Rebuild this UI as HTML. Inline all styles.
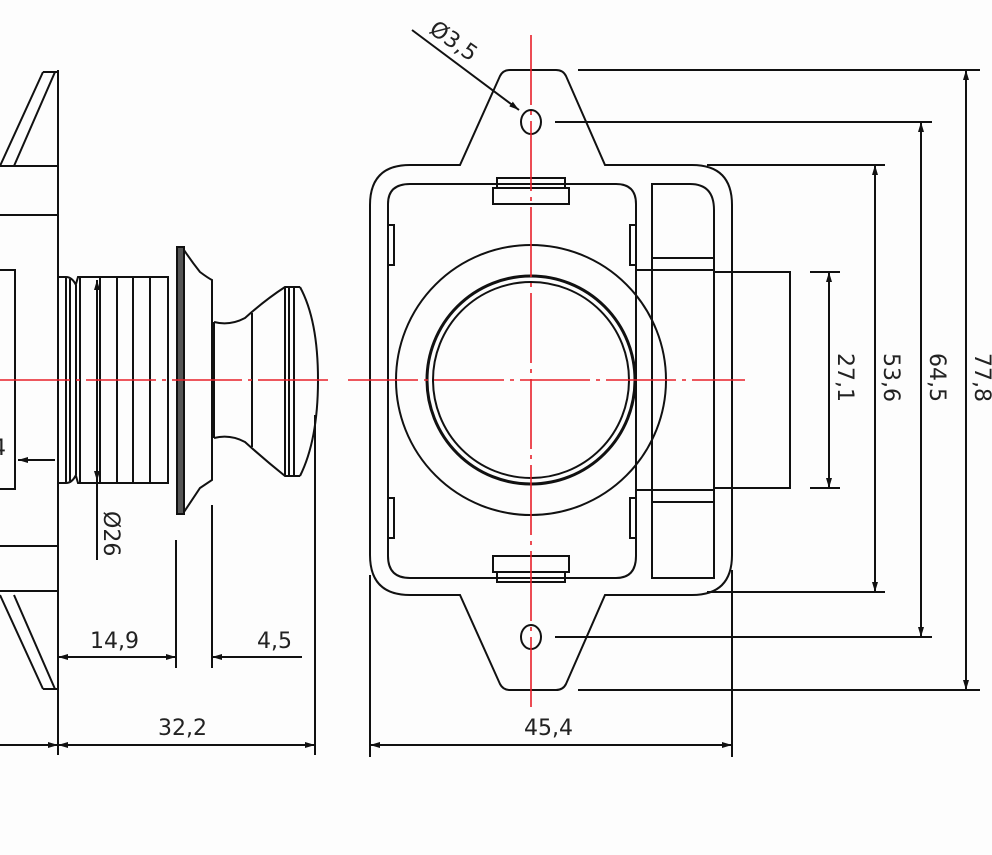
<!DOCTYPE html>
<html><head><meta charset="utf-8"><style>
html,body{margin:0;padding:0;background:#fdfdfd;}
svg{display:block;}
text{font-family:"DejaVu Sans","Liberation Sans",sans-serif;font-size:22px;fill:#222;}
</style></head><body>
<svg width="992" height="855" viewBox="0 0 992 855" xmlns="http://www.w3.org/2000/svg">
<defs>
<marker id="a" viewBox="0 0 10 10" refX="10" refY="5" markerWidth="10" markerHeight="10" orient="auto-start-reverse" markerUnits="userSpaceOnUse"><path d="M0,2 L10,5 L0,8 z" fill="#111"/></marker>
</defs>
<rect width="992" height="855" fill="#fdfdfd"/>
<g fill="none" stroke="#111" stroke-width="2">
<!-- LEFT VIEW -->
<line x1="58" y1="70" x2="58" y2="691"/>
<path d="M43,72 L58,72 M43,72 L0,166 M55,72 L14,166"/>
<line x1="0" y1="166" x2="58" y2="166"/>
<line x1="0" y1="215" x2="58" y2="215"/>
<rect x="-2" y="270" width="17" height="219"/>
<line x1="0" y1="546" x2="58" y2="546"/>
<line x1="0" y1="591" x2="58" y2="591"/>
<path d="M43,689 L58,689 M43,689 L0,595 M55,689 L14,595"/>
<!-- bellows -->
<path d="M58,277 L66,277 Q72,277 76,285 L76,475 Q72,483 66,483 L58,483"/>
<line x1="66" y1="277" x2="66" y2="483"/>
<line x1="70" y1="279" x2="70" y2="481"/>
<path d="M76,284 L78,277 L168,277 L168,483 L78,483 L76,476"/>
<line x1="80" y1="277" x2="80" y2="483"/>
<line x1="100" y1="277" x2="100" y2="483"/>
<line x1="117" y1="277" x2="117" y2="483"/>
<line x1="133" y1="277" x2="133" y2="483"/>
<line x1="150" y1="277" x2="150" y2="483"/>
<!-- flange -->
<rect x="177" y="247" width="7" height="267" fill="#555"/>
<path d="M184,250 Q192,262 200,272 Q208,278 212,280 L212,480 Q206,484 200,488 Q192,500 184,512"/>
<line x1="212" y1="280" x2="212" y2="480"/>
<!-- knob -->
<path d="M214,322 Q230,326 245,318 Q265,300 285,287 L300,287"/>
<path d="M214,438 Q230,434 245,442 Q265,460 285,476 L300,476"/>
<line x1="252" y1="313" x2="252" y2="447"/>
<line x1="214" y1="322" x2="214" y2="438"/>
<line x1="285" y1="287" x2="285" y2="476"/>
<line x1="289" y1="287" x2="289" y2="476"/>
<line x1="294" y1="287" x2="294" y2="476"/>
<path d="M300,287 Q318,320 318,380 Q318,440 300,476"/>
<!-- dims left -->
<line x1="97" y1="280" x2="97" y2="560" marker-start="url(#a)"/>
<line x1="97" y1="480" x2="97" y2="481" marker-end="url(#a)" stroke-width="0.1"/>
<line x1="55" y1="460" x2="18" y2="460" marker-end="url(#a)"/>
<line x1="176" y1="540" x2="176" y2="668"/>
<line x1="212" y1="505" x2="212" y2="668"/>
<line x1="315" y1="415" x2="315" y2="755"/>
<line x1="58" y1="691" x2="58" y2="755"/>
<line x1="58" y1="657" x2="176" y2="657" marker-start="url(#a)" marker-end="url(#a)"/>
<line x1="212" y1="657" x2="302" y2="657" marker-start="url(#a)"/>
<line x1="58" y1="745" x2="315" y2="745" marker-start="url(#a)" marker-end="url(#a)"/>
<line x1="0" y1="745" x2="58" y2="745" marker-end="url(#a)"/>
<!-- RIGHT VIEW -->
<path d="M510,70 L556,70 Q563,70 566,76 L605,165 L692,165 Q732,165 732,205 L732,555 Q732,595 692,595 L605,595 L566,684 Q563,690 556,690 L510,690 Q503,690 500,684 L460,595 L410,595 Q370,595 370,555 L370,205 Q370,165 410,165 L460,165 L500,76 Q503,70 510,70 Z"/>
<ellipse cx="531" cy="122" rx="10" ry="12"/>
<ellipse cx="531" cy="637" rx="10" ry="12"/>
<path d="M410,184 L616,184 Q636,184 636,204 L636,556 Q636,578 616,578 L410,578 Q388,578 388,556 L388,204 Q388,184 410,184 Z"/>
<rect x="497" y="178" width="68" height="10"/><rect x="493" y="188" width="76" height="16"/>
<rect x="497" y="572" width="68" height="10"/><rect x="493" y="556" width="76" height="16"/>
<rect x="388" y="225" width="6" height="40"/><rect x="388" y="498" width="6" height="40"/>
<rect x="630" y="225" width="6" height="40"/><rect x="630" y="498" width="6" height="40"/>
<circle cx="531" cy="380" r="135"/>
<circle cx="531" cy="380" r="104" stroke-width="3"/>
<circle cx="531" cy="380" r="98"/>
<path d="M652,184 L690,184 Q714,184 714,210 L714,578 L652,578 Z"/>
<line x1="652" y1="258" x2="714" y2="258"/><line x1="652" y1="270" x2="714" y2="270"/>
<line x1="652" y1="490" x2="714" y2="490"/><line x1="652" y1="502" x2="714" y2="502"/>
<line x1="636" y1="270" x2="652" y2="270"/><line x1="636" y1="490" x2="652" y2="490"/>
<rect x="714" y="272" width="76" height="216"/>
<!-- dims right -->
<line x1="578" y1="70" x2="980" y2="70"/><line x1="555" y1="122" x2="932" y2="122"/>
<line x1="707" y1="165" x2="885" y2="165"/><line x1="810" y1="272" x2="840" y2="272"/>
<line x1="810" y1="488" x2="840" y2="488"/><line x1="707" y1="592" x2="885" y2="592"/>
<line x1="555" y1="637" x2="932" y2="637"/><line x1="578" y1="690" x2="980" y2="690"/>
<line x1="829" y1="272" x2="829" y2="488" marker-start="url(#a)" marker-end="url(#a)"/>
<line x1="875" y1="165" x2="875" y2="592" marker-start="url(#a)" marker-end="url(#a)"/>
<line x1="921" y1="122" x2="921" y2="637" marker-start="url(#a)" marker-end="url(#a)"/>
<line x1="966" y1="70" x2="966" y2="690" marker-start="url(#a)" marker-end="url(#a)"/>
<line x1="370" y1="575" x2="370" y2="757"/><line x1="732" y1="570" x2="732" y2="757"/>
<line x1="370" y1="745" x2="732" y2="745" marker-start="url(#a)" marker-end="url(#a)"/>
<line x1="412" y1="30" x2="519" y2="110" marker-end="url(#a)"/>
</g>
<!-- centerlines -->
<g stroke="#e8202a" stroke-width="1.6" fill="none" stroke-dasharray="70,6,4,6">
<line x1="0" y1="380" x2="330" y2="380"/>
<line x1="348" y1="380" x2="745" y2="380"/>
<line x1="531" y1="35" x2="531" y2="712"/>
</g>
<!-- labels -->
<text x="90" y="648">14,9</text>
<text x="257" y="648">4,5</text>
<text x="158" y="735">32,2</text>
<text x="524" y="735">45,4</text>
<text transform="translate(104,511) rotate(90)">Ø26</text>
<text transform="translate(838,353) rotate(90)">27,1</text>
<text transform="translate(884,353) rotate(90)">53,6</text>
<text transform="translate(930,353) rotate(90)">64,5</text>
<text transform="translate(975,353) rotate(90)">77,8</text>
<text transform="translate(428,32) rotate(35)">Ø3,5</text>
<text x="-8" y="455">4</text>
</svg>
</body></html>
